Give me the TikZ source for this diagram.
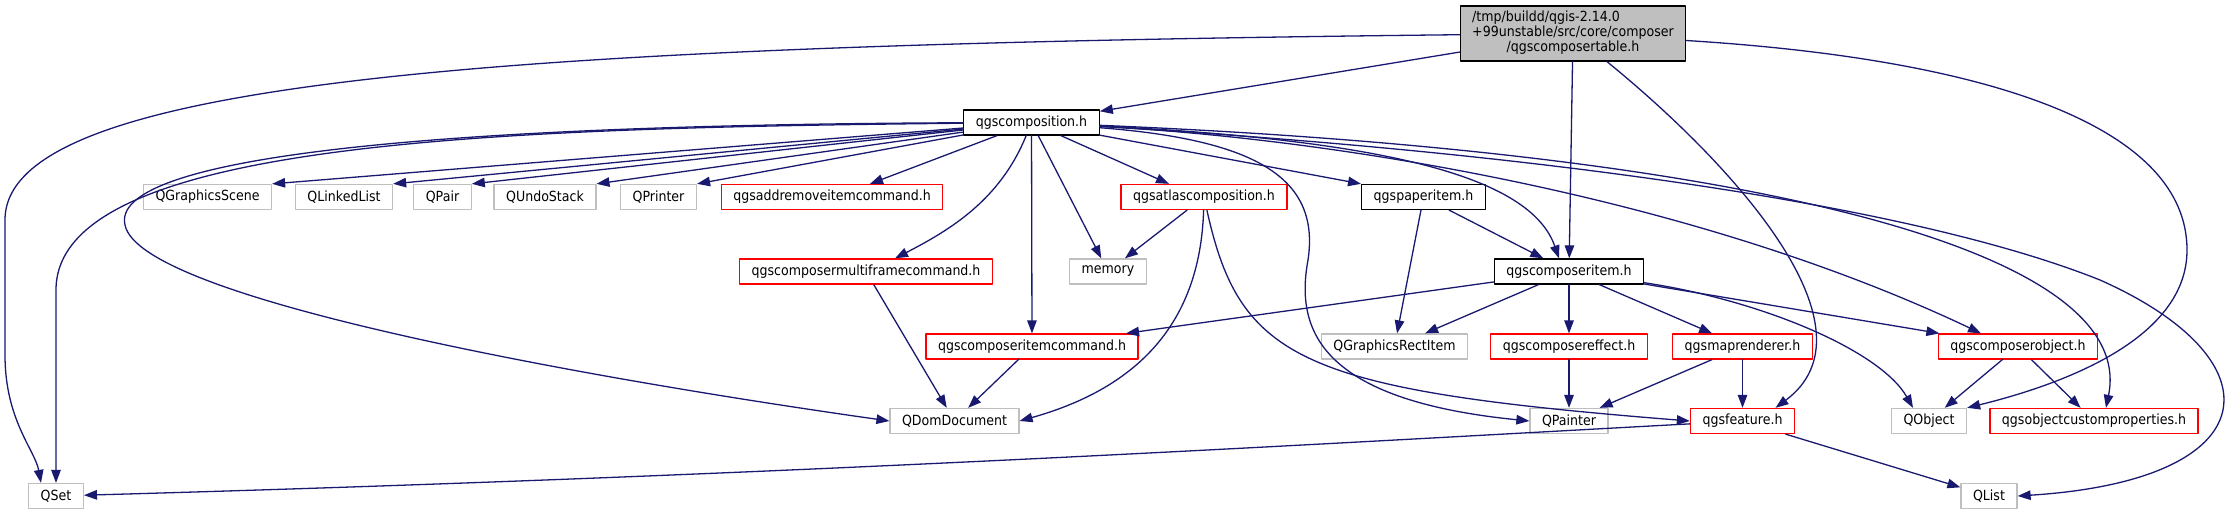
\documentclass[tikz,border=0pt]{standalone}
\usepackage{fontspec}
\setmainfont{DejaVu Sans}[FakeStretch=0.9]
\usetikzlibrary{arrows.meta}
\definecolor{depblue}{HTML}{191970}
\definecolor{extgrey}{HTML}{BFBFBF}
\definecolor{truncred}{HTML}{FF0000}
\tikzset{
  hdr/.style={draw=black, line width=1.3pt, fill=white, font=\fontsize{14pt}{15pt}\selectfont,
    inner xsep=12pt, inner ysep=0pt, minimum height=25pt, minimum width=54pt},
  ext/.style={hdr, draw=extgrey},
  trunc/.style={hdr, draw=truncred},
  rootbox/.style={hdr, fill=extgrey, minimum height=55pt},
  dep/.style={draw=depblue, line width=1.3pt, -{Triangle[length=13pt,width=9.5pt]}}
}
\begin{document}
\begin{tikzpicture}[x=1pt,y=-1pt,line cap=round,line join=round]
\useasboundingbox (0,0) rectangle (2235,515);
% files
\node[rootbox] (root) at (1573,33.5) {\begin{tabular}{@{}l@{}}/tmp/buildd/qgis-2.14.0\\
  +99unstable/src/core/composer\\\multicolumn{1}{@{}c@{}}{/qgscomposertable.h}\end{tabular}};
\node[hdr] (comp) at (1031.5,122.5) {qgscomposition.h};
\node[ext] (gscene) at (207.5,197) {QGraphicsScene};
\node[ext] (llist) at (344,197) {QLinkedList};
\node[ext] (qpair) at (442.5,197) {QPair};
\node[ext] (undo) at (545,197) {QUndoStack};
\node[ext] (printer) at (658.5,197) {QPrinter};
\node[trunc] (addrem) at (832,197) {qgsaddremoveitemcommand.h};
\node[trunc] (atlas) at (1204,197) {qgsatlascomposition.h};
\node[hdr] (paper) at (1423.5,197) {qgspaperitem.h};
\node[trunc] (multi) at (866,271.5) {qgscomposermultiframecommand.h};
\node[ext] (memory) at (1108,271.5) {memory};
\node[hdr] (citem) at (1569,271.5) {qgscomposeritem.h};
\node[trunc] (icmd) at (1032,346.5) {qgscomposeritemcommand.h};
\node[ext] (rect) at (1394.5,346.5) {QGraphicsRectItem};
\node[trunc] (effect) at (1569,346.5) {qgscomposereffect.h};
\node[trunc] (maprend) at (1742.5,346.5) {qgsmaprenderer.h};
\node[trunc] (cobj) at (2018,346.5) {qgscomposerobject.h};
\node[ext] (domdoc) at (954.5,421) {QDomDocument};
\node[ext] (painter) at (1569,421) {QPainter};
\node[trunc] (feature) at (1742.5,421) {qgsfeature.h};
\node[ext] (qobject) at (1929,421) {QObject};
\node[trunc] (custprop) at (2094,421) {qgsobjectcustomproperties.h};
\node[ext] (qset) at (56,496) {QSet};
\node[ext] (qlist) at (1989,496) {QList};
% straight includes
\foreach \a/\b in {root/comp, root/citem, comp/icmd, comp/memory, atlas/memory, paper/rect,
    paper/citem, citem/icmd, citem/rect, citem/effect, citem/maprend, citem/cobj,
    effect/painter, maprend/painter, maprend/feature, cobj/qobject, cobj/custprop,
    multi/domdoc, icmd/domdoc, feature/qlist}
  \draw[dep] (\a) -- (\b);
\foreach \t in {gscene,llist,qpair,undo,printer}
  \draw[dep] (comp) -- (\t.north east);
\draw[dep] (comp) -- ([xshift=38]addrem.north);
\draw[dep] (comp) -- ([xshift=-35]atlas.north);
\draw[dep] (comp) -- (paper.north west);
% curved includes
\draw[dep] (root) .. controls (500,45) and (5,80) .. (5,220) -- (5,355)
  .. controls (5,420) and (35,450) .. ([xshift=-15]qset.north);
\draw[dep] ([xshift=34]root.south) .. controls (1740,170) and (1880,330) .. ([xshift=33]feature.north);
\draw[dep] (root) .. controls (2000,60) and (2187,130) .. (2187,250)
  .. controls (2187,340) and (2060,385) .. (qobject.north east);
\draw[dep] (comp) .. controls (500,128) and (56,140) .. (56,290) -- (qset.north);
\draw[dep] (comp) .. controls (400,125) and (110,160) .. (125,225)
  .. controls (140,300) and (600,380) .. (domdoc.west);
\draw[dep] (comp) .. controls (1000,200) and (950,230) .. ([xshift=29]multi.north);
\draw[dep] (comp) .. controls (1380,140) and (1530,175) .. ([xshift=-10]citem.north);
\draw[dep] (comp) .. controls (1350,140) and (1700,200) .. ([xshift=-37]cobj.north);
\draw[dep] (comp) .. controls (1700,150) and (2140,240) .. ([xshift=12]custprop.north);
\draw[dep] (comp) .. controls (1500,150) and (1900,200) .. (2100,280)
  .. controls (2280,360) and (2270,480) .. (qlist.east);
\draw[dep] (comp) .. controls (1260,140) and (1320,180) .. (1308,260)
  .. controls (1295,330) and (1320,400) .. (painter.west);
\draw[dep] (atlas) .. controls (1200,330) and (1130,390) .. (domdoc.east);
\draw[dep] (atlas) .. controls (1240,360) and (1300,390) .. (feature.west);
\draw[dep] (citem) .. controls (1760,300) and (1880,350) .. ([xshift=-16]qobject.north);
\draw[dep] (feature) .. controls (1300,445) and (800,475) .. (qset);
\end{tikzpicture}
\end{document}
